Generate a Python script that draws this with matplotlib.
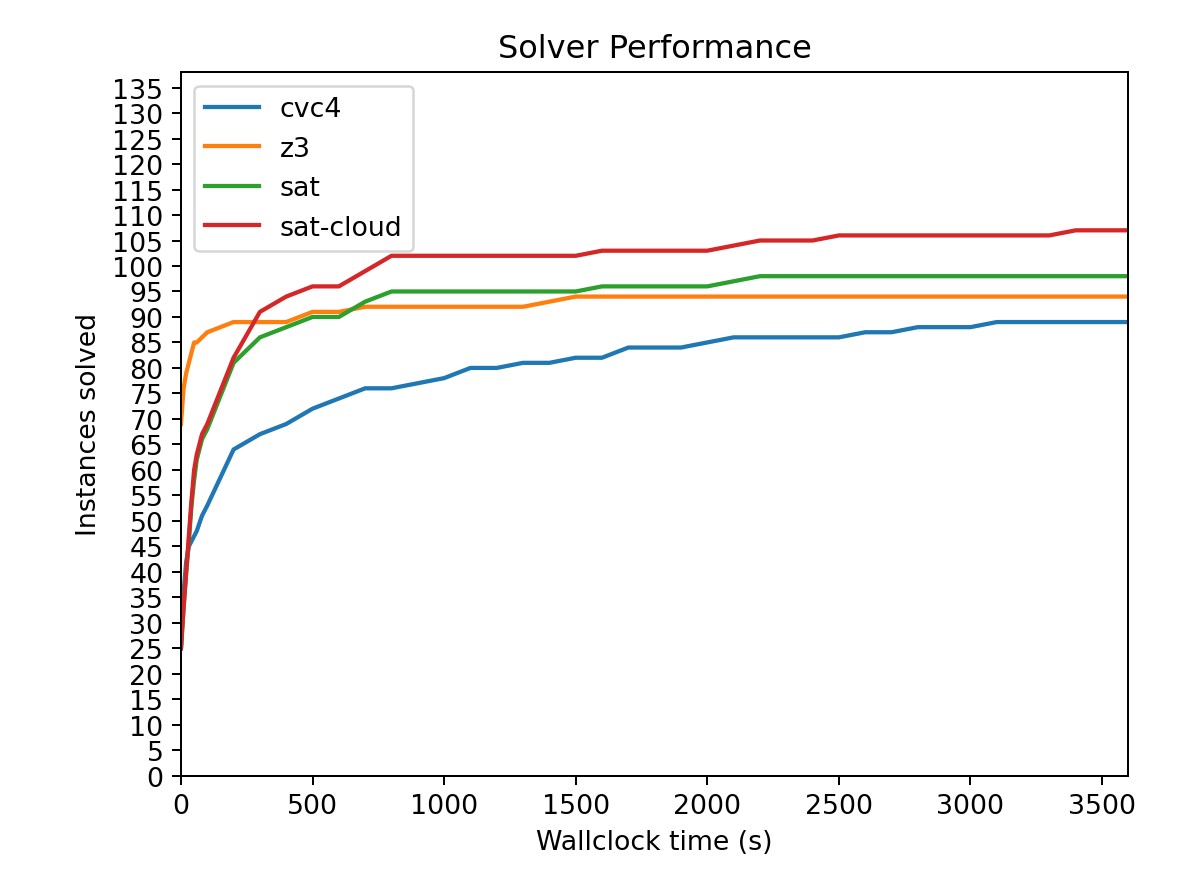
import matplotlib
matplotlib.use('Agg')
import matplotlib.pyplot as plt

# time points (seconds)
times = [0, 10, 20, 30, 40, 50, 60, 80, 100, 200, 300, 400, 500, 600, 700, 800,
         900, 1000, 1100, 1200, 1300, 1400, 1500, 1600, 1700, 1800, 1900, 2000,
         2100, 2200, 2300, 2400, 2500, 2600, 2700, 2800, 2900, 3000, 3100, 3200,
         3300, 3400, 3500, 3600]

# instances solved per solver
cvc4 = [25, 36, 42, 45, 46, 47, 48, 51, 53, 64, 67, 69, 72, 74, 76, 76,
        77, 78, 80, 80, 81, 81, 82, 82, 84, 84, 84, 85,
        86, 86, 86, 86, 86, 87, 87, 88, 88, 88, 89, 89,
        89, 89, 89, 89]
z3 = [69, 76, 79, 81, 83, 85, 85, 86, 87, 89, 89, 89, 91, 91, 92, 92,
      92, 92, 92, 92, 92, 93, 94, 94, 94, 94, 94, 94,
      94, 94, 94, 94, 94, 94, 94, 94, 94, 94, 94, 94,
      94, 94, 94, 94]
sat = [25, 33, 40, 46, 53, 58, 62, 66, 68, 81, 86, 88, 90, 90, 93, 95,
       95, 95, 95, 95, 95, 95, 95, 96, 96, 96, 96, 96,
       97, 98, 98, 98, 98, 98, 98, 98, 98, 98, 98, 98,
       98, 98, 98, 98]
sat_cloud = [25, 33, 40, 47, 54, 60, 63, 67, 69, 82, 91, 94, 96, 96, 99, 102,
             102, 102, 102, 102, 102, 102, 102, 103, 103, 103, 103, 103,
             104, 105, 105, 105, 106, 106, 106, 106, 106, 106, 106, 106,
             106, 107, 107, 107]

solvers = ['cvc4', 'z3', 'sat', 'sat-cloud']
series = [cvc4, z3, sat, sat_cloud]

plt.rcParams['font.size'] = 10.7
plt.rcParams['axes.titlesize'] = 12.8
plt.rcParams['lines.linewidth'] = 1.7

fig = plt.figure(figsize=(1200 / 180, 876 / 180), dpi=180)
ax = fig.add_axes([0.1508, 0.1134, 0.7895, 0.8029])

for name, vals in zip(solvers, series):
    ax.plot(times, vals, label=name)

ax.set_xlim(0, 3600)
ax.set_ylim(0, 138)
ax.set_yticks(range(0, 136, 5))
ax.set_xlabel('Wallclock time (s)')
ax.set_ylabel('Instances solved')
ax.set_title('Solver Performance')
ax.legend(loc='upper left')

fig.savefig('out.png', dpi=180)
